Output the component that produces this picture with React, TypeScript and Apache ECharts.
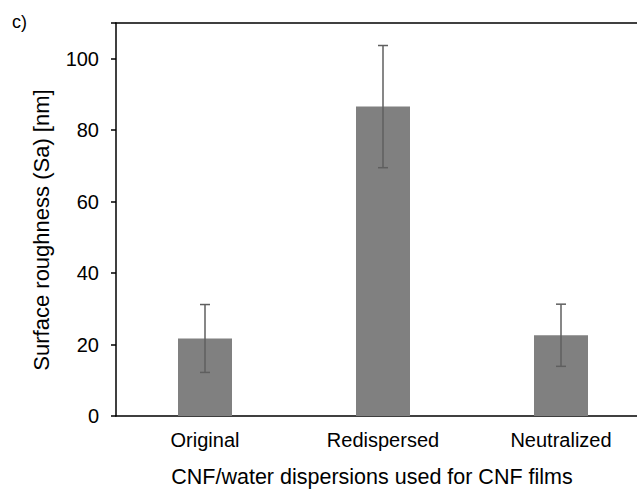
import React, { useEffect, useRef } from "react";
import * as echarts from "echarts";

const categories = ["Original", "Redispersed", "Neutralized"];
const means = [21.7, 86.6, 22.6];
const errors = [9.5, 17.1, 8.7];
const yTicks = { min: 0, max: 110, interval: 20 };
const xTitle = "CNF/water dispersions used for CNF films";
const yTitle = "Surface roughness (Sa) [nm]";
const panelLabel = "c)";

const FONT = "'Liberation Sans', Arial, sans-serif";

export default function App() {
  const ref = useRef<HTMLDivElement>(null);
  useEffect(() => {
    if (!ref.current) return;
    const chart = echarts.init(ref.current, undefined, { renderer: "svg" });
    const errData = categories.map((c, i) => [i, means[i] - errors[i], means[i] + errors[i]]);
    chart.setOption({
      animation: false,
      backgroundColor: "#fff",
      textStyle: { fontFamily: FONT },
      graphic: [
        {
          type: "text",
          x: 12,
          y: 22,
          style: { text: panelLabel, font: `18px ${FONT}`, fill: "#000", verticalAlign: "middle" },
        },
        {
          type: "text",
          x: 372,
          y: 477,
          style: {
            text: xTitle,
            font: `21.5px ${FONT}`,
            fill: "#000",
            align: "center",
            verticalAlign: "middle",
          },
        },
        {
          type: "text",
          x: 41,
          y: 230,
          rotation: Math.PI / 2,
          style: {
            text: yTitle,
            font: `22px ${FONT}`,
            fill: "#000",
            align: "center",
            verticalAlign: "middle",
          },
        },
      ],
      grid: {
        left: 116,
        top: 23,
        width: 534,
        height: 393,
        outerBoundsMode: "none",
        containLabel: false,
      },
      xAxis: [
        {
          type: "category",
          data: categories,
          axisLine: { show: true, lineStyle: { color: "#000", width: 1.5 } },
          axisTick: { show: false },
          axisLabel: { color: "#000", fontSize: 20, fontFamily: FONT, margin: 14 },
        },
        {
          type: "category",
          position: "top",
          data: categories,
          axisLine: { show: true, lineStyle: { color: "#000", width: 1.5 } },
          axisTick: { show: false },
          axisLabel: { show: false },
        },
      ],
      yAxis: {
        type: "value",
        min: yTicks.min,
        max: yTicks.max,
        interval: yTicks.interval,
        splitLine: { show: false },
        axisLine: { show: true, lineStyle: { color: "#000", width: 1.5 } },
        axisTick: { show: true, length: 5, lineStyle: { color: "#000", width: 1.5 } },
        axisLabel: {
          color: "#000",
          fontSize: 20,
          fontFamily: FONT,
          margin: 17,
          formatter: (v: number) => (v > 100 ? "" : String(v)),
        },
      },
      series: [
        {
          type: "bar",
          data: means,
          barWidth: 54,
          itemStyle: { color: "#808080" },
          z: 2,
        },
        {
          type: "custom",
          data: errData,
          z: 3,
          renderItem: (params: any, api: any) => {
            const x = api.value(0);
            const lo = api.coord([x, api.value(1)]);
            const hi = api.coord([x, api.value(2)]);
            const hw = 5;
            const style = { stroke: "#5f5f5f", lineWidth: 1.5 };
            return {
              type: "group",
              children: [
                { type: "line", shape: { x1: hi[0], y1: hi[1], x2: lo[0], y2: lo[1] }, style },
                { type: "line", shape: { x1: hi[0] - hw, y1: hi[1], x2: hi[0] + hw, y2: hi[1] }, style },
                { type: "line", shape: { x1: lo[0] - hw, y1: lo[1], x2: lo[0] + hw, y2: lo[1] }, style },
              ],
            };
          },
        },
      ],
    });
    return () => chart.dispose();
  }, []);
  return (
    <div
      ref={ref}
      style={{ position: "absolute", left: 0, top: 0, width: 637, height: 493, overflow: "hidden" }}
    />
  );
}
